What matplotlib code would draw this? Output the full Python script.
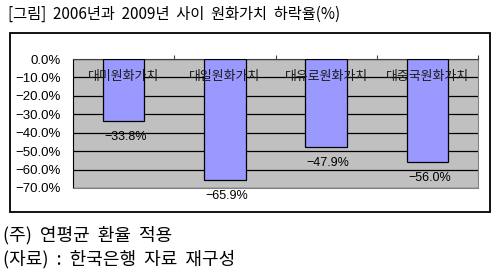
import matplotlib
matplotlib.use("Agg")
import matplotlib.pyplot as plt
from matplotlib.patches import Rectangle

plt.rcParams['font.family'] = ['Noto Sans CJK KR', 'DejaVu Sans']

categories = ['대미원화가치', '대일원화가치', '대유로원화가치', '대중국원화가치']
values = [-33.8, -65.9, -47.9, -56.0]
yticks = [0, -10, -20, -30, -40, -50, -60, -70]
title = '[그림] 2006년과 2009년 사이 원화가치 하락율(%)'
note1 = '(주) 연평균 환율 적용'
note2 = '(자료) : 한국은행 자료 재구성'


def widen(s):
    return s.replace(' ', '  ')


fig = plt.figure(figsize=(5, 2.74), dpi=100)
fig.patch.set_facecolor('white')

# outer box
fig.patches.append(Rectangle((10/500, 1-212/274), 480/500, 179/274, transform=fig.transFigure,
                             fill=False, edgecolor='black', linewidth=1.3))

ax = fig.add_axes([73/500, 1-188/274, 405/500, 129/274])
ax.set_facecolor('#C0C0C0')
x = list(range(len(categories)))
ax.bar(x, values, width=0.41, color='#9999FF', edgecolor='black', linewidth=0.9, zorder=3)
ax.set_xlim(-0.5, len(categories) - 0.5)
ax.set_ylim(-70, 0)
ax.set_yticks(yticks)
ax.set_yticklabels([f'{v:.1f}%' if v == 0 else f'\u2212{abs(v):.1f}%' for v in yticks],
                   fontsize=9.5, family=['Liberation Sans', 'DejaVu Sans'])
ax.tick_params(axis='y', length=0, pad=9)
for v in yticks:
    ax.axhline(v, color='black', linewidth=0.9, zorder=1)
ax.xaxis.tick_top()
ax.set_xticks([0.5, 1.5, 2.5, 3.5])
ax.set_xticklabels([])
ax.tick_params(axis='x', direction='out', length=3, width=0.8, color='#404040')
for s in ['right', 'bottom']:
    ax.spines[s].set_color('#808080')
ax.spines['top'].set_color('#404040')
ax.spines['left'].set_color('black')

for i, (c, v) in enumerate(zip(categories, values)):
    ax.text(i, -9.3, c, ha='center', va='center', fontsize=9.3, color='#1a1a1a', zorder=4)
    ax.annotate(f'\u2212{abs(v):.1f}%', (i, v), xytext=(2, -16), textcoords='offset pixels',
                ha='center', va='center', fontsize=9, family=['Liberation Sans', 'DejaVu Sans'],
                zorder=4, annotation_clip=False)

fig.text(8/500, 1-14/274, widen(title), ha='left', va='center', fontsize=11)
fig.text(3/500, 1-235/274, widen(note1), ha='left', va='center', fontsize=13)
fig.text(3/500, 1-259/274, widen(note2), ha='left', va='center', fontsize=13)

fig.savefig('out.png', dpi=100)
